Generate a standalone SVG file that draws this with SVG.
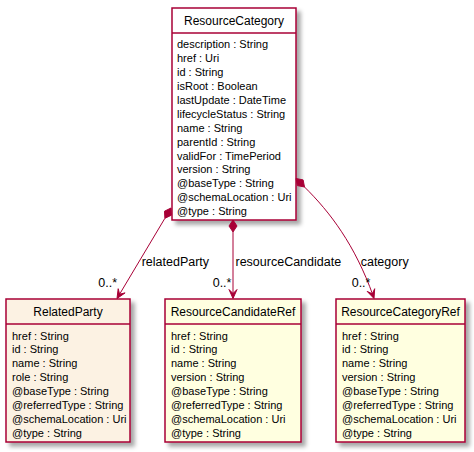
<svg xmlns="http://www.w3.org/2000/svg" width="474" height="452" viewBox="0 0 474 452">
<defs>
<filter id="sh" x="-10%" y="-10%" width="130%" height="130%">
<feDropShadow dx="4" dy="4" stdDeviation="2" flood-color="#000000" flood-opacity="0.35"/>
</filter>
<style>
.box{stroke:#A80036;stroke-width:1.5;}
.sep{stroke:#A80036;stroke-width:1.5;}
.title{font-family:"Liberation Sans",Arial,sans-serif;font-size:12px;fill:#000;text-anchor:middle;}
.fld{font-family:"Liberation Sans",Arial,sans-serif;font-size:11px;fill:#000;}
.lbl{font-family:"Liberation Sans",Arial,sans-serif;font-size:12.5px;fill:#000;}
.ln{stroke:#A80036;stroke-width:1;fill:none;}
.hd{fill:#A80036;stroke:#A80036;stroke-width:1;}
</style>
</defs>
<rect width="474" height="452" fill="#FFFFFF"/>

<g id="ResourceCategory">
<rect class="box" x="172" y="8" width="124" height="212" fill="#FFFFFF" filter="url(#sh)"/>
<text class="title" x="234" y="25">ResourceCategory</text>
<line class="sep" x1="172" y1="33" x2="296" y2="33"/>
<text class="fld" x="177" y="48.3">description : String</text>
<text class="fld" x="177" y="62.2">href : Uri</text>
<text class="fld" x="177" y="76.1">id : String</text>
<text class="fld" x="177" y="90">isRoot : Boolean</text>
<text class="fld" x="177" y="103.9">lastUpdate : DateTime</text>
<text class="fld" x="177" y="117.8">lifecycleStatus : String</text>
<text class="fld" x="177" y="131.7">name : String</text>
<text class="fld" x="177" y="145.6">parentId : String</text>
<text class="fld" x="177" y="159.5">validFor : TimePeriod</text>
<text class="fld" x="177" y="173.4">version : String</text>
<text class="fld" x="177" y="187.3">@baseType : String</text>
<text class="fld" x="177" y="201.2">@schemaLocation : Uri</text>
<text class="fld" x="177" y="215.1">@type : String</text>
</g>

<g id="RelatedParty">
<rect class="box" x="6" y="299" width="124" height="143" fill="#FCF2E3" filter="url(#sh)"/>
<text class="title" x="68" y="316">RelatedParty</text>
<line class="sep" x1="6" y1="324" x2="130" y2="324"/>
<text class="fld" x="12" y="339.5">href : String</text>
<text class="fld" x="12" y="353.4">id : String</text>
<text class="fld" x="12" y="367.3">name : String</text>
<text class="fld" x="12" y="381.2">role : String</text>
<text class="fld" x="12" y="395.1">@baseType : String</text>
<text class="fld" x="12" y="409">@referredType : String</text>
<text class="fld" x="12" y="422.9">@schemaLocation : Uri</text>
<text class="fld" x="12" y="436.8">@type : String</text>
</g>

<g id="ResourceCandidateRef">
<rect class="box" x="165" y="299" width="136" height="143" fill="#FFFFE0" filter="url(#sh)"/>
<text class="title" x="233" y="316">ResourceCandidateRef</text>
<line class="sep" x1="165" y1="324" x2="301" y2="324"/>
<text class="fld" x="171" y="339.5">href : String</text>
<text class="fld" x="171" y="353.4">id : String</text>
<text class="fld" x="171" y="367.3">name : String</text>
<text class="fld" x="171" y="381.2">version : String</text>
<text class="fld" x="171" y="395.1">@baseType : String</text>
<text class="fld" x="171" y="409">@referredType : String</text>
<text class="fld" x="171" y="422.9">@schemaLocation : Uri</text>
<text class="fld" x="171" y="436.8">@type : String</text>
</g>

<g id="ResourceCategoryRef">
<rect class="box" x="336" y="299" width="129" height="143" fill="#FFFFE0" filter="url(#sh)"/>
<text class="title" x="400.5" y="316">ResourceCategoryRef</text>
<line class="sep" x1="336" y1="324" x2="465" y2="324"/>
<text class="fld" x="342" y="339.5">href : String</text>
<text class="fld" x="342" y="353.4">id : String</text>
<text class="fld" x="342" y="367.3">name : String</text>
<text class="fld" x="342" y="381.2">version : String</text>
<text class="fld" x="342" y="395.1">@baseType : String</text>
<text class="fld" x="342" y="409">@referredType : String</text>
<text class="fld" x="342" y="422.9">@schemaLocation : Uri</text>
<text class="fld" x="342" y="436.8">@type : String</text>
</g>

<g id="connectors">
<g id="c-relatedParty">
<line class="ln" x1="164.9" y1="218.3" x2="118.5" y2="296"/>
<polygon class="hd" points="171,208 171.4,215.2 164.9,218.3 164.5,211.2"/>
<polygon class="hd" points="117,298.5 125.1,292.9 119.6,294.2 118.2,288.7"/>
<text class="lbl" x="141.7" y="265.5">relatedParty</text>
<text class="lbl" x="98.3" y="286.5">0..*</text>
</g>
<g id="c-resourceCandidate">
<line class="ln" x1="233" y1="232" x2="233" y2="296"/>
<polygon class="hd" points="233,220 237,226 233,232 229,226"/>
<polygon class="hd" points="233,298.5 237,289.5 233,293.5 229,289.5"/>
<text class="lbl" x="235.5" y="265.5">resourceCandidate</text>
<text class="lbl" x="212.7" y="286.5">0..*</text>
</g>
<g id="c-category">
<path class="ln" d="M304.5,187 C330,212 355,245 373.2,296"/>
<polygon class="hd" points="296,178.5 303.1,179.9 304.5,187 297.4,185.6"/>
<polygon class="hd" points="374,298.5 374.7,288.7 372.3,293.8 367.2,291.4"/>
<text class="lbl" x="360.7" y="265.5">category</text>
<text class="lbl" x="351.7" y="286.5">0..*</text>
</g>
</g>
</svg>
